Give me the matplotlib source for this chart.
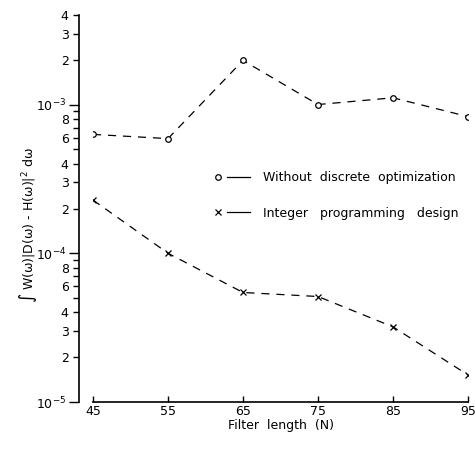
import numpy as np
import matplotlib
matplotlib.use("Agg")
import matplotlib.pyplot as plt
from matplotlib.lines import Line2D
from matplotlib.legend_handler import HandlerBase
from matplotlib.ticker import FixedLocator, FuncFormatter

# filter length N
filter_len = [45, 55, 65, 75, 85, 95]
# error values
no_discrete = [6.3e-4, 5.9e-4, 1.98e-3, 1.0e-3, 1.11e-3, 8.3e-4]
integer_prog = [2.28e-4, 1.0e-4, 5.45e-5, 5.12e-5, 3.2e-5, 1.52e-5]

x_ticks = [45, 55, 65, 75, 85, 95]
y_major = [1e-5, 1e-4, 1e-3]
y_labelled = [2, 3, 4, 6, 8]


class MarkerThenLine(HandlerBase):
    # marker on the left, short solid line to the right of it
    def create_artists(self, legend, orig, xdescent, ydescent, width, height,
                       fontsize, trans):
        y = height / 2.0 - ydescent
        x0 = -xdescent
        m = Line2D([x0 + 0.11 * width], [y], marker=orig.get_marker(),
                   ms=orig.get_markersize(), mfc='white', mec='k', mew=0.9,
                   ls='none')
        l = Line2D([x0 + 0.36 * width, x0 + width], [y, y], color='k', lw=0.9)
        m.set_transform(trans)
        l.set_transform(trans)
        return [m, l]


plt.rcParams['font.family'] = ['DejaVu Sans']
plt.rcParams['font.size'] = 9
plt.rcParams['axes.unicode_minus'] = False

fig = plt.figure(figsize=(4.76, 4.51), dpi=100)
ax = fig.add_axes([93 / 476, 1 - 402 / 451, 375 / 476, 387 / 451])

l1, = ax.plot(filter_len, no_discrete, ls=(0, (6.5, 5.5)), color='k', lw=0.9,
              marker='o', ms=4, mfc='white', mec='k', mew=0.9,
              label='Without  discrete  optimization')
l2, = ax.plot(filter_len, integer_prog, ls=(0, (6.5, 5.5)), color='k', lw=0.9,
              marker='x', ms=4.5, mec='k', mew=0.9,
              label='Integer   programming   design')

ax.set_yscale('log')
ax.set_xlim(45, 95)
ax.set_ylim(1e-5, 4e-3)

# spines
for s in ['top', 'right']:
    ax.spines[s].set_visible(False)
ax.spines['left'].set_position(('outward', 10))
ax.spines['left'].set_linewidth(1.2)
ax.spines['bottom'].set_linewidth(1.2)

# x ticks
ax.set_xticks(x_ticks)
ax.tick_params(axis='x', direction='in', length=4, width=1, pad=2)

# y ticks
minor = []
for dec in y_major:
    for k in range(2, 10):
        v = k * dec
        if v <= 4e-3 * 1.0001:
            minor.append(v)
ax.yaxis.set_major_locator(FixedLocator(y_major))
ax.yaxis.set_minor_locator(FixedLocator(minor))


def major_fmt(v, pos):
    return r'10$^{%d}$' % int(round(np.log10(v)))


def minor_fmt(v, pos):
    k = int(round(v / 10 ** np.floor(np.log10(v) + 1e-9)))
    if k in y_labelled:
        if v > 1e-3 and k > 4:
            return ''
        return str(k)
    return ''


ax.yaxis.set_major_formatter(FuncFormatter(major_fmt))
ax.yaxis.set_minor_formatter(FuncFormatter(minor_fmt))
ax.tick_params(axis='y', which='major', direction='out', length=7, width=1, pad=2)
ax.tick_params(axis='y', which='minor', direction='out', length=4.5, width=1,
               pad=3, labelsize=9)

ax.set_xlabel('Filter  length  (N)', labelpad=1)
ax.set_ylabel(r'∫ W(ω)|D(ω) - H(ω)|$^2$ dω')
ax.yaxis.set_label_coords(-0.145, 0.457)

ax.legend(handles=[l1, l2], handler_map={Line2D: MarkerThenLine()},
          loc='center left', bbox_to_anchor=(0.323, 0.534), frameon=False,
          borderpad=0, borderaxespad=0, handlelength=2.9, handletextpad=1.0,
          labelspacing=1.8, fontsize=9)

fig.savefig('out.png', dpi=100)
